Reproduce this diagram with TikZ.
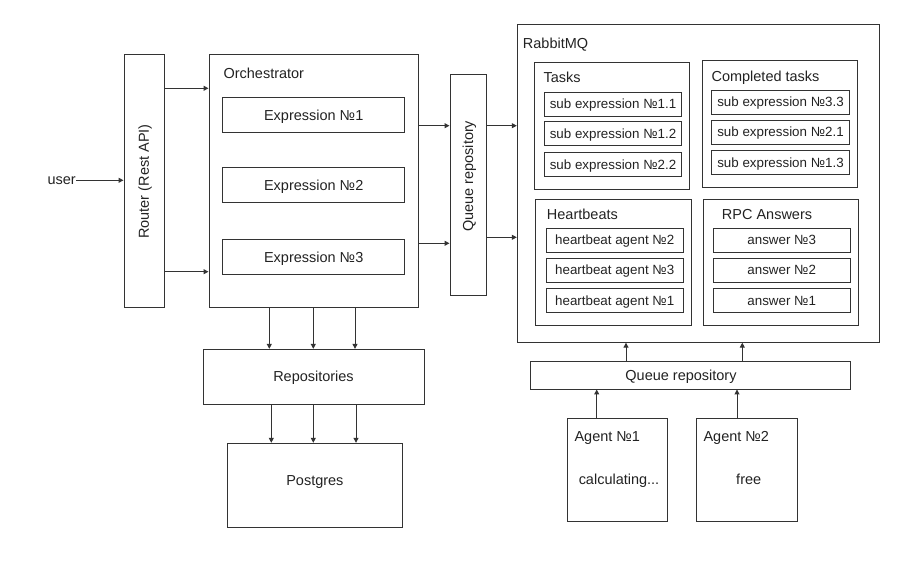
\documentclass[tikz,border=0pt]{standalone}
\usepackage{fontspec}
\setmainfont{Liberation Sans}
\usetikzlibrary{arrows.meta}

\definecolor{linecol}{HTML}{333333}
\definecolor{textcol}{HTML}{222222}

\newcommand{\pxscl}{0.025}
\newcommand{\px}[1]{#1*\pxscl}
\newcommand{\bigfs}{\fontsize{10.3}{12}\selectfont}
\newcommand{\smallfs}{\fontsize{9.5}{11}\selectfont}
\newcommand{\bx}[2]{\node[box, minimum width=\px{#1}cm, minimum height=\px{#2}cm]}
\newcommand{\ib}{\node[box, font=\smallfs, text height=6.8pt, minimum width=\px{137.3}cm, minimum height=\px{24}cm]}
\newcommand{\tx}{\node[txt]}
\newcommand{\lb}{\node[txt, anchor=west]}

\tikzset{
    box/.style={draw=linecol, line width=0.7pt, inner sep=0pt, text=textcol, font=\bigfs, text height=7.4pt, text depth=0pt},
    txt/.style={inner sep=0pt, text=textcol, font=\bigfs, text height=7.4pt, text depth=0pt},
    conn/.style={draw=linecol, line width=0.7pt, -{Triangle[length=3.5pt, width=3.5pt]}},
    conns/.style={every edge/.style={conn}},
}

\begin{document}
\begin{tikzpicture}
            \useasboundingbox (0, 0) rectangle (\px{922}, -\px{561});

            % left side
            \node[txt, anchor=east, text height=5.3pt] (user) at (\px{76}, -\px{180.3}) {user};
            \bx{40}{253} (router) at (\px{144}, -\px{180.5}) {};
            \tx[rotate=90] (routerlbl) at (\px{143.7}, -\px{181.5}) {Router (Rest API)};

            \bx{209}{253} (orch) at (\px{313.5}, -\px{180.5}) {};
            \lb (orchlbl) at (\px{223.3}, -\px{73}) {Orchestrator};
            \bx{182}{35} (expr1) at (\px{313.7}, -\px{114.8}) {Expression №1};
            \bx{182}{35} (expr2) at (\px{313.7}, -\px{185.2}) {Expression №2};
            \bx{182}{35} (expr3) at (\px{313.7}, -\px{257.3}) {Expression №3};

            \bx{36}{221} (queuev) at (\px{468}, -\px{184.6}) {};
            \tx[rotate=90] (queuevlbl) at (\px{468}, -\px{176.3}) {Queue repository};

            \bx{221}{54.7} (repos) at (\px{313.5}, -\px{376.7}) {Repositories};
            \bx{175.7}{84.4} (pg) at (\px{314.9}, -\px{485.5}) {};
            \tx (pglbl) at (\px{314.9}, -\px{480}) {Postgres};

            % rabbit
            \bx{362}{318} (rabbit) at (\px{698.3}, -\px{183.2}) {};
            \lb (rabbitlbl) at (\px{522.7}, -\px{43.3}) {RabbitMQ};

            \bx{155.4}{126.7} (tasks) at (\px{612}, -\px{125.7}) {};
            \lb (taskslbl) at (\px{543.3}, -\px{77.7}) {Tasks};
            \ib (task1) at (\px{613}, -\px{104.2}) {sub expression №1.1};
            \ib (task2) at (\px{613}, -\px{133.9}) {sub expression №1.2};
            \ib (task3) at (\px{613}, -\px{164.3}) {sub expression №2.2};

            \bx{155.7}{126.6} (done) at (\px{779.9}, -\px{124}) {};
            \lb (donelbl) at (\px{711.3}, -\px{76}) {Completed tasks};
            \ib (done1) at (\px{780.5}, -\px{102.2}) {sub expression №3.3};
            \ib (done2) at (\px{780.5}, -\px{132.2}) {sub expression №2.1};
            \ib (done3) at (\px{780.5}, -\px{162.3}) {sub expression №1.3};

            \bx{156}{126} (beats) at (\px{613.7}, -\px{262}) {};
            \lb (beatslbl) at (\px{546.7}, -\px{214}) {Heartbeats};
            \ib (beat1) at (\px{614.7}, -\px{240}) {heartbeat agent №2};
            \ib (beat2) at (\px{614.7}, -\px{270.2}) {heartbeat agent №3};
            \ib (beat3) at (\px{614.7}, -\px{300.3}) {heartbeat agent №1};

            \bx{155.3}{126} (rpc) at (\px{780.7}, -\px{262}) {};
            \lb (rpclbl) at (\px{721.7}, -\px{214}) {RPC Answers};
            \ib (ans1) at (\px{781.7}, -\px{240}) {answer №3};
            \ib (ans2) at (\px{781.7}, -\px{270.2}) {answer №2};
            \ib (ans3) at (\px{781.7}, -\px{300.3}) {answer №1};

            % agents
            \bx{320}{28} (queueh) at (\px{690.7}, -\px{375}) {};
            \tx (queuehlbl) at (\px{681}, -\px{375}) {Queue repository};

            \bx{99.7}{103.7} (agent1) at (\px{617.2}, -\px{469.9}) {};
            \lb (agent1lbl) at (\px{574.3}, -\px{436}) {Agent №1};
            \tx (agent1st) at (\px{619}, -\px{479}) {calculating...};
            \bx{100.6}{103} (agent2) at (\px{747}, -\px{470.2}) {};
            \lb (agent2lbl) at (\px{703.3}, -\px{436}) {Agent №2};
            \tx (agent2st) at (\px{748.7}, -\px{479}) {free};

            \path[conns]
                (user.east) edge (user.east -| router.west)
                ([yshift=\px{92.2}cm]router.east) edge ([yshift=\px{92.2}cm]router.east -| orch.west)
                ([yshift=\px{-91.2}cm]router.east) edge ([yshift=\px{-91.2}cm]router.east -| orch.west)
                ([yshift=\px{54.8}cm]orch.east) edge ([yshift=\px{54.8}cm]orch.east -| queuev.west)
                ([yshift=\px{-62.8}cm]orch.east) edge ([yshift=\px{-62.8}cm]orch.east -| queuev.west)
                ([yshift=\px{58.9}cm]queuev.east) edge ([yshift=\px{58.9}cm]queuev.east -| rabbit.west)
                ([yshift=\px{-52.7}cm]queuev.east) edge ([yshift=\px{-52.7}cm]queuev.east -| rabbit.west)
                ;

            \path[conns]
                ([xshift=\px{-44.2}cm]orch.south) edge ([xshift=\px{-44.2}cm]orch.south |- repos.north)
                ([xshift=\px{-0.2}cm]orch.south) edge ([xshift=\px{-0.2}cm]orch.south |- repos.north)
                ([xshift=\px{41.5}cm]orch.south) edge ([xshift=\px{41.5}cm]orch.south |- repos.north)
                ([xshift=\px{-42.2}cm]repos.south) edge ([xshift=\px{-42.2}cm]repos.south |- pg.north)
                ([xshift=\px{-0.2}cm]repos.south) edge ([xshift=\px{-0.2}cm]repos.south |- pg.north)
                ([xshift=\px{42.5}cm]repos.south) edge ([xshift=\px{42.5}cm]repos.south |- pg.north)
                ;

            \path[conns]
                ([xshift=\px{-64.7}cm]queueh.north) edge ([xshift=\px{-64.7}cm]queueh.north |- rabbit.south)
                ([xshift=\px{51.6}cm]queueh.north) edge ([xshift=\px{51.6}cm]queueh.north |- rabbit.south)
                ([xshift=\px{-20.5}cm]agent1.north) edge ([xshift=\px{-20.5}cm]agent1.north |- queueh.south)
                ([xshift=\px{-10}cm]agent2.north) edge ([xshift=\px{-10}cm]agent2.north |- queueh.south)
                ;
\end{tikzpicture}
\end{document}
